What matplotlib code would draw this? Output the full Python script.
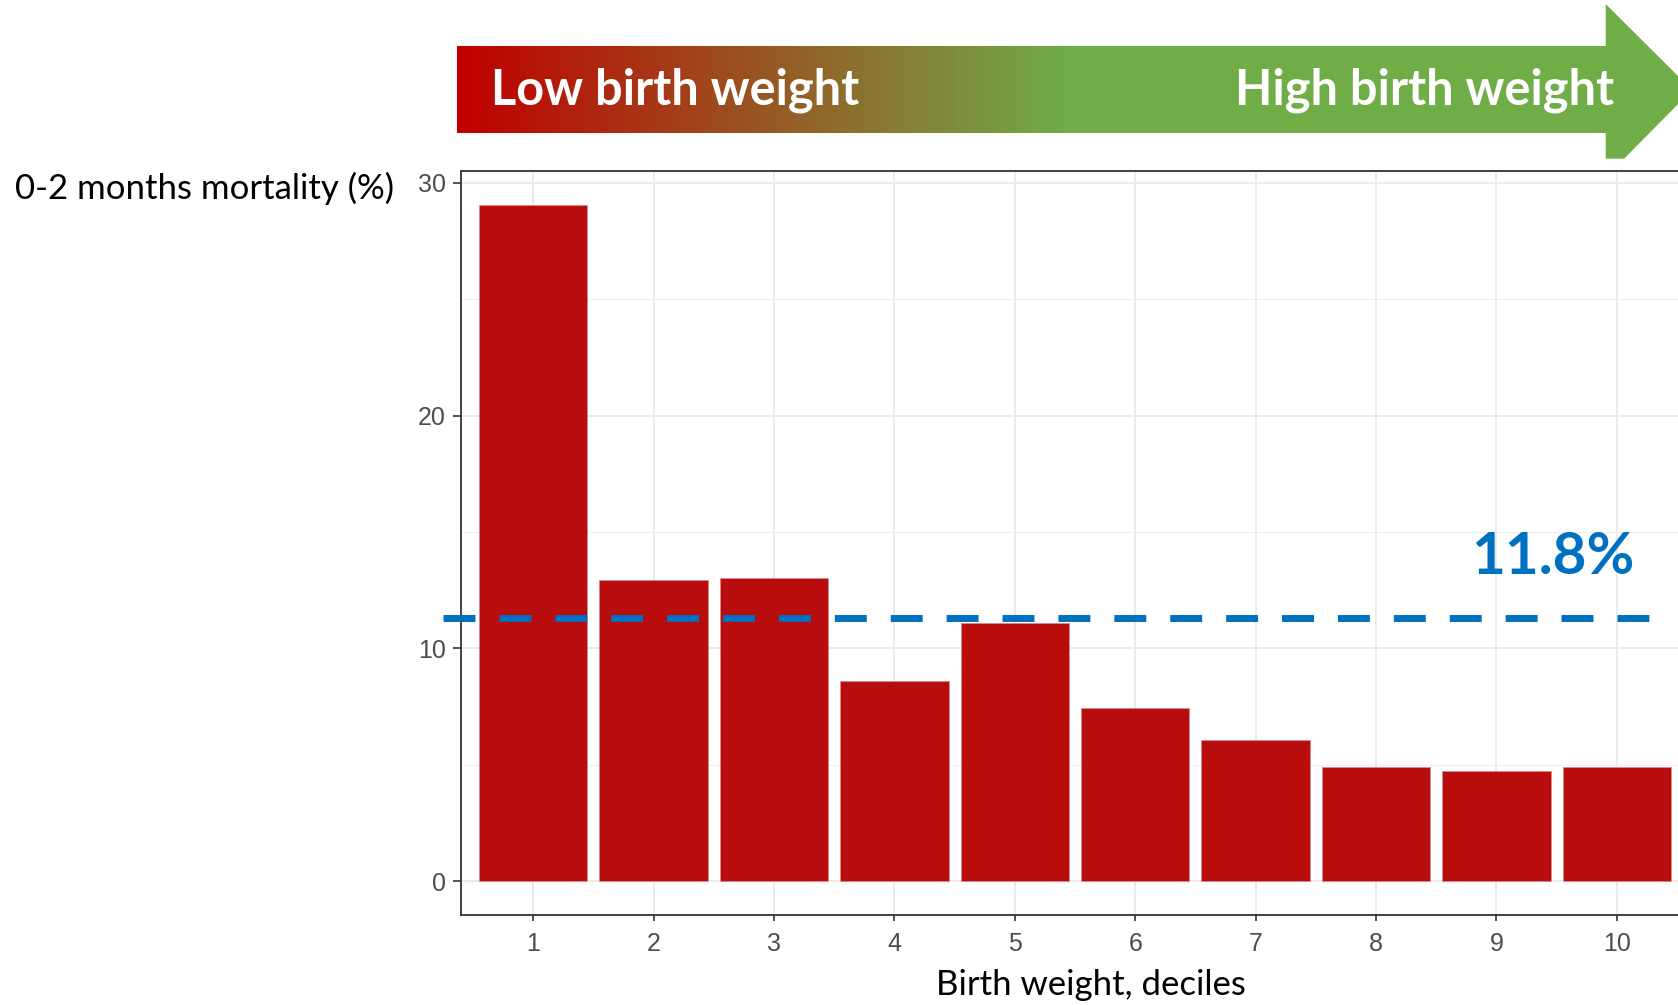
import numpy as np
import matplotlib.pyplot as plt
from matplotlib.patches import Polygon
from matplotlib.colors import LinearSegmentedColormap

# data
deciles = [1, 2, 3, 4, 5, 6, 7, 8, 9, 10]
mortality = [29.05, 12.93, 13.01, 8.58, 11.11, 7.43, 6.07, 4.90, 4.73, 4.90]
overall_mortality = 11.3   # where the dashed line sits
overall_label = "11.8%"
y_ticks = [0, 10, 20, 30]
y_minor = [5, 15, 25]

W, H = 1678, 1005
fig = plt.figure(figsize=(W / 100, H / 100), dpi=100)

# main panel (its right edge runs a little past the picture, as in the original)
ax = fig.add_axes([461 / W, 1 - 915 / H, (1689 - 461) / W, (915 - 171) / H])
ax.bar(deciles, mortality, width=0.9, color='#B90C0C', edgecolor='#D98A8A',
       linewidth=0.6, zorder=3)
ax.set_xlim(0.4, 10.6)
ax.set_ylim(-1.45, 30.5)
ax.set_xticks(deciles)
ax.set_yticks(y_ticks)
ax.set_yticks(y_minor, minor=True)
ax.grid(which='major', color='#EBEBEB', linewidth=1.4)
ax.grid(which='minor', axis='y', color='#F0F0F0', linewidth=0.9)
ax.set_axisbelow(True)
for s in ax.spines.values():
    s.set_color('#333333')
    s.set_linewidth(1.3)
ax.tick_params(which='minor', length=0)
ax.tick_params(axis='y', which='major', length=5.8, width=1.2, color='#333333',
               labelcolor='#4D4D4D', labelsize=18, pad=5)
ax.tick_params(axis='x', which='major', length=4.3, width=1.2, color='#333333',
               labelcolor='#4D4D4D', labelsize=18, pad=8)
for lab in ax.get_xticklabels() + ax.get_yticklabels():
    lab.set_fontfamily(['Liberation Sans Narrow', 'Liberation Sans'])

# dashed overall line, drawn a bit past the left spine
xmin = (0.25 - 0.4) / 10.2
xmax = (10.28 - 0.4) / 10.2
ax.axhline(overall_mortality, xmin=xmin, xmax=xmax, color='#0070C0', linewidth=5,
           linestyle=(0, (4.6, 3.45)), clip_on=False, zorder=5)

# overlay in pixel coords for the header arrow and the loose texts
hdr = fig.add_axes([0, 0, 1, 1])
hdr.patch.set_alpha(0)
grad = np.linspace(0, 1, 600)[None, :]
cmap = LinearSegmentedColormap.from_list(
    'rg', [(0, '#C00000'), (0.53, '#70AD47'), (1, '#70AD47')])
hdr.imshow(grad, cmap=cmap, aspect='auto', extent=(457, 1606, 133.3, 46.5),
           interpolation='bilinear')
hdr.add_patch(Polygon([(1605.7, 4), (1692, 90), (1624, 158.7), (1605.7, 158.7)],
                      closed=True, facecolor='#70AD47', edgecolor='none'))
hdr.set_xlim(0, W)
hdr.set_ylim(H, 0)
hdr.axis('off')

hdr.text(491, 104, 'Low birth weight', color='white', fontweight='bold',
         family='Lato', size=35, ha='left', va='baseline')
hdr.text(1614, 104, 'High birth weight', color='white', fontweight='bold',
         family='Lato', size=35, ha='right', va='baseline')
hdr.text(1635, 574, overall_label, color='#0070C0', fontweight='bold',
         family='Lato', size=42, ha='right', va='baseline')
hdr.text(15, 199, '0-2 months mortality (%)', color='black',
         family='Lato', size=25, ha='left', va='baseline')
hdr.text(1091, 995, 'Birth weight, deciles', color='black',
         family='Lato', size=25, ha='center', va='baseline')

fig.savefig('out.png', dpi=100)
